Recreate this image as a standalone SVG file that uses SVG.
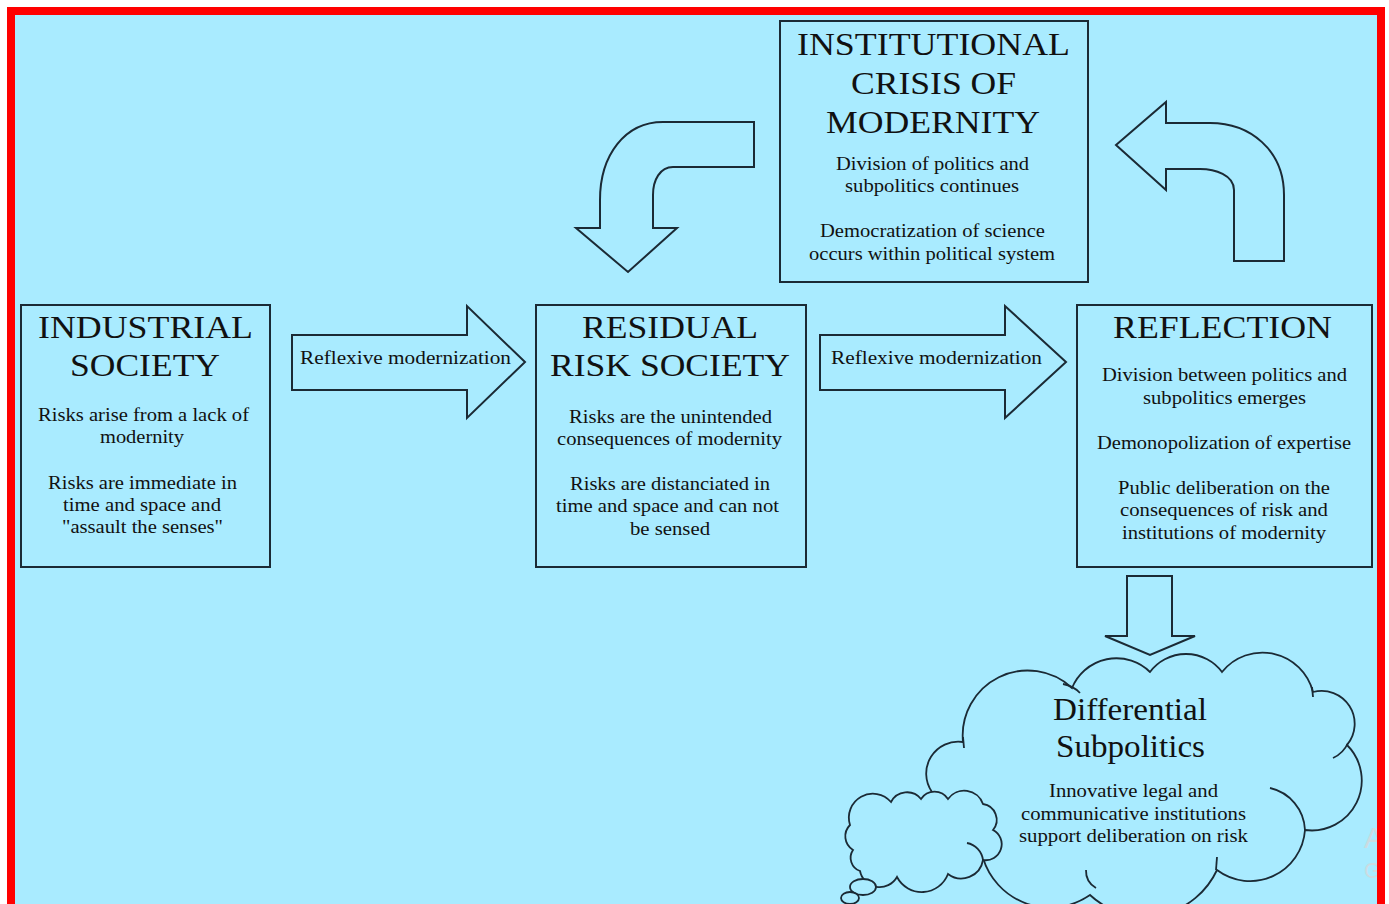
<svg xmlns="http://www.w3.org/2000/svg" width="1389" height="904" viewBox="0 0 1389 904">
<style>
.box{fill:#a9ebff;stroke:#1b2a35;stroke-width:2}
.arr{fill:#a9ebff;stroke:#1b2a35;stroke-width:2;stroke-linejoin:miter}
.cl{fill:#a9ebff;stroke:#1b2a35;stroke-width:1.8}
.hook{fill:none;stroke:#1b2a35;stroke-width:1.8}
.t{font-family:"Liberation Serif","Times New Roman",serif;fill:#111;}
.h{font-size:32px}
.b{font-size:18px}
.c{font-size:31px}
.wm{font-family:"Liberation Sans",Arial,sans-serif;fill:#cbdbe2}
</style>
<rect x="0" y="0" width="1389" height="904" fill="#ffffff"/>
<rect x="11" y="11" width="1370" height="920" fill="#a9ebff"/>
<text class="wm" x="1364" y="848" font-size="30">A</text>
<text class="wm" x="1364" y="878" font-size="22">G</text>
<rect x="11" y="11" width="1370" height="920" fill="none" stroke="#ff0000" stroke-width="8"/>

<g id="connectors">
  <path class="arr" d="M292,335 L467,335 L467,306 L525,362 L467,418 L467,390 L292,390 Z"/>
  <path class="arr" d="M820,335 L1005,335 L1005,306 L1066,362 L1005,418 L1005,390 L820,390 Z"/>
  <path class="arr" d="M1127,576 L1172,576 L1172,636 L1195,636 L1150,655 L1105,636 L1127,636 Z"/>
  <path class="arr" d="M754,122 L663,122 C625,122 600,155 600,200 L600,228 L576,228 L628,272 L677,228 L653,228 L653,195 C653,180 660,167 673,167 L754,167 Z"/>
  <path class="arr" d="M1116,145 L1166,102 L1166,123 L1210,123 C1250,123 1284,150 1284,195 L1284,261 L1234,261 L1234,190 C1234,175 1215,169 1200,169 L1166,169 L1166,190 Z"/>
  <text class="t b" x="300" y="364" textLength="211" lengthAdjust="spacingAndGlyphs">Reflexive modernization</text>
  <text class="t b" x="831" y="364" textLength="211" lengthAdjust="spacingAndGlyphs">Reflexive modernization</text>
</g>

<g id="institutional">
  <rect class="box" x="780" y="21" width="308" height="261"/>
  <text class="t h" x="797" y="55" textLength="273" lengthAdjust="spacingAndGlyphs">INSTITUTIONAL</text>
  <text class="t h" x="851" y="94" textLength="165" lengthAdjust="spacingAndGlyphs">CRISIS OF</text>
  <text class="t h" x="826" y="133" textLength="214" lengthAdjust="spacingAndGlyphs">MODERNITY</text>
  <text class="t b" x="836" y="170" textLength="193" lengthAdjust="spacingAndGlyphs">Division of politics and</text>
  <text class="t b" x="845" y="192" textLength="174" lengthAdjust="spacingAndGlyphs">subpolitics continues</text>
  <text class="t b" x="820" y="237" textLength="225" lengthAdjust="spacingAndGlyphs">Democratization of science</text>
  <text class="t b" x="809" y="260" textLength="246" lengthAdjust="spacingAndGlyphs">occurs within political system</text>
</g>

<g id="industrial">
  <rect class="box" x="21" y="305" width="249" height="262"/>
  <text class="t h" x="38" y="338" textLength="215" lengthAdjust="spacingAndGlyphs">INDUSTRIAL</text>
  <text class="t h" x="70" y="376" textLength="150" lengthAdjust="spacingAndGlyphs">SOCIETY</text>
  <text class="t b" x="38" y="421" textLength="211" lengthAdjust="spacingAndGlyphs">Risks arise from a lack of</text>
  <text class="t b" x="100" y="443" textLength="84" lengthAdjust="spacingAndGlyphs">modernity</text>
  <text class="t b" x="48" y="489" textLength="189" lengthAdjust="spacingAndGlyphs">Risks are immediate in</text>
  <text class="t b" x="63" y="511" textLength="158" lengthAdjust="spacingAndGlyphs">time and space and</text>
  <text class="t b" x="62" y="533" textLength="161" lengthAdjust="spacingAndGlyphs">"assault the senses"</text>
</g>

<g id="residual">
  <rect class="box" x="536" y="305" width="270" height="262"/>
  <text class="t h" x="582" y="338" textLength="176" lengthAdjust="spacingAndGlyphs">RESIDUAL</text>
  <text class="t h" x="550" y="376" textLength="240" lengthAdjust="spacingAndGlyphs">RISK SOCIETY</text>
  <text class="t b" x="569" y="423" textLength="203" lengthAdjust="spacingAndGlyphs">Risks are the unintended</text>
  <text class="t b" x="557" y="445" textLength="225" lengthAdjust="spacingAndGlyphs">consequences of modernity</text>
  <text class="t b" x="570" y="490" textLength="200" lengthAdjust="spacingAndGlyphs">Risks are distanciated in</text>
  <text class="t b" x="556" y="512" textLength="223" lengthAdjust="spacingAndGlyphs">time and space and can not</text>
  <text class="t b" x="630" y="535" textLength="80" lengthAdjust="spacingAndGlyphs">be sensed</text>
</g>

<g id="reflection">
  <rect class="box" x="1077" y="305" width="295" height="262"/>
  <text class="t h" x="1113" y="338" textLength="219" lengthAdjust="spacingAndGlyphs">REFLECTION</text>
  <text class="t b" x="1102" y="381" textLength="245" lengthAdjust="spacingAndGlyphs">Division between politics and</text>
  <text class="t b" x="1143" y="404" textLength="163" lengthAdjust="spacingAndGlyphs">subpolitics emerges</text>
  <text class="t b" x="1097" y="449" textLength="254" lengthAdjust="spacingAndGlyphs">Demonopolization of expertise</text>
  <text class="t b" x="1118" y="494" textLength="212" lengthAdjust="spacingAndGlyphs">Public deliberation on the</text>
  <text class="t b" x="1120" y="516" textLength="208" lengthAdjust="spacingAndGlyphs">consequences of risk and</text>
  <text class="t b" x="1122" y="539" textLength="204" lengthAdjust="spacingAndGlyphs">institutions of modernity</text>
</g>

<g id="differential-subpolitics">
  <path class="cl" d="M932,792 A32,32 0 0 1 963,742 A65,65 0 0 1 1072,688 A48,48 0 0 1 1150,672 A45,45 0 0 1 1222,672 A52,52 0 0 1 1313,692 A33,33 0 0 1 1347,745 A50,50 0 0 1 1305,830 A55,55 0 0 1 1217,870 A80,80 0 0 1 1090,895 A70,70 0 0 1 983,858 Z"/>
  <path class="hook" d="M1270,788 A45,45 0 0 1 1305,830"/>
  <path class="hook" d="M1333,758 A30,30 0 0 0 1348,743"/>
  <path class="hook" d="M1217,857 L1216,870"/>
  <path class="hook" d="M1086,870 A20,20 0 0 0 1096,888"/>
  <path class="hook" d="M1312,687 L1313,697"/>
  <path class="hook" d="M1063,684 A30,30 0 0 1 1080,693"/>
  <path class="hook" d="M963,737 L964,748"/>
  <path class="cl" d="M853,850 A16,16 0 0 1 850,825 A24,24 0 0 1 891,802 A18,18 0 0 1 921,799 A16,16 0 0 1 948,799 A20,20 0 0 1 983,804 A16,16 0 0 1 993,830 A16,16 0 0 1 983,860 A22,22 0 0 1 948,874 A28,28 0 0 1 897,877 A20,20 0 0 1 860,871 A14,14 0 0 1 853,850 Z"/>
  <path class="hook" d="M967,843 A20,20 0 0 1 983,860"/>
  <ellipse class="cl" cx="863" cy="887" rx="13" ry="8"/>
  <ellipse class="cl" cx="850" cy="898" rx="9" ry="6"/>
  <text class="t c" x="1053" y="720" textLength="154" lengthAdjust="spacingAndGlyphs">Differential</text>
  <text class="t c" x="1056" y="757" textLength="149" lengthAdjust="spacingAndGlyphs">Subpolitics</text>
  <text class="t b" x="1049" y="797" textLength="169" lengthAdjust="spacingAndGlyphs">Innovative legal and</text>
  <text class="t b" x="1021" y="820" textLength="225" lengthAdjust="spacingAndGlyphs">communicative institutions</text>
  <text class="t b" x="1019" y="842" textLength="229" lengthAdjust="spacingAndGlyphs">support deliberation on risk</text>
</g>
</svg>
